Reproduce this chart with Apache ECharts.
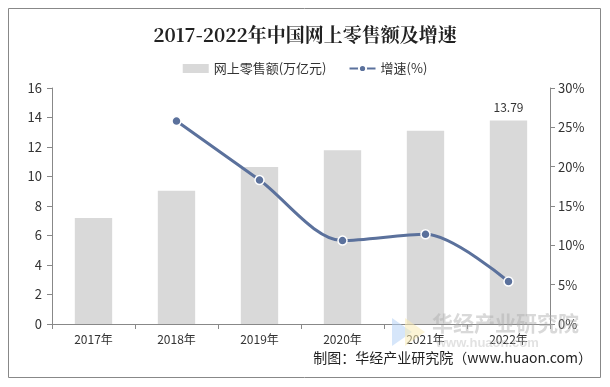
<!DOCTYPE html>
<html><head><meta charset="utf-8">
<script src="https://cdn.jsdelivr.net/npm/echarts@6/dist/echarts.min.js"></script>
<style>html,body{margin:0;padding:0;background:#fff}#c{width:610px;height:387px}</style>
</head><body><div id="c"></div>
<script>
const categories = ['2017年','2018年','2019年','2020年','2021年','2022年'];
const salesValues = [7.18, 9.04, 10.64, 11.78, 13.1, 13.79];
const growthValues = [null, 25.8, 18.3, 10.6, 11.4, 5.4];
const leftTicks = [0,2,4,6,8,10,12,14,16];
const rightTicks = ['0%','5%','10%','15%','20%','25%','30%'];

const chart = echarts.init(document.getElementById('c'));
const font = '"Noto Sans CJK SC", "Liberation Sans", sans-serif';
chart.setOption({
  animation: false,
  backgroundColor: '#fff',
  title: {
    text: '2017-2022年中国网上零售额及增速',
    left: 'center', top: 20,
    textStyle: {fontFamily: '"Noto Serif CJK SC", "Noto Sans CJK SC", serif', fontSize: 19, fontWeight: 'bold', color: '#222'}
  },
  legend: {
    top: 57, left: 'center', itemGap: 22, itemWidth: 26, itemHeight: 9,
    textStyle: {fontFamily: font, fontSize: 13, color: '#333'},
    data: [{name: '网上零售额(万亿元)', icon: 'rect'}, {name: '增速(%)'}]
  },
  grid: {left: 52, right: 60, top: 88, bottom: 63},
  xAxis: {
    type: 'category', data: categories,
    axisLine: {lineStyle: {color: '#888'}},
    axisTick: {show: true, lineStyle: {color: '#888'}},
    axisLabel: {color: '#333', fontSize: 12, fontFamily: font, margin: 9}
  },
  yAxis: [{
    type: 'value', min: 0, max: 16, interval: 2,
    axisLine: {show: true, lineStyle: {color: '#888'}},
    axisTick: {show: true, lineStyle: {color: '#888'}},
    splitLine: {show: false},
    axisLabel: {color: '#333', fontSize: 13, fontFamily: font, margin: 10,
      formatter: v => leftTicks.indexOf(v) >= 0 ? String(v) : ''}
  }, {
    type: 'value', min: 0, max: 30, interval: 5,
    axisLine: {show: true, lineStyle: {color: '#888'}},
    axisTick: {show: true, lineStyle: {color: '#888'}},
    splitLine: {show: false},
    axisLabel: {color: '#333', fontSize: 13, fontFamily: font, margin: 8,
      formatter: v => rightTicks[Math.round(v/5)]}
  }],
  series: [{
    name: '网上零售额(万亿元)', type: 'bar', data: salesValues.map((v,i)=> i===salesValues.length-1 ? {value: v, label: {show: true, position: 'top', color: '#333', fontSize: 12, fontFamily: font, distance: 7}} : v),
    barWidth: '45%', itemStyle: {color: '#d9d9d9'}
  }, {
    name: '增速(%)', type: 'line', yAxisIndex: 1, data: growthValues, smooth: 0.3,
    symbol: 'circle', symbolSize: 9,
    lineStyle: {color: '#5b719c', width: 3},
    itemStyle: {color: '#5b719c', borderColor: '#fff', borderWidth: 1.5}
  }],
  graphic: [
    {type: 'rect', shape: {x: 8.5, y: 8.5, width: 592, height: 369}, style: {fill: 'none', stroke: '#888', lineWidth: 1}, z: 100},
    {type: 'polygon', shape: {points: [[392,318],[392,346],[412,332]]}, style: {fill: 'rgba(180,210,245,0.55)'}, z: 50},
    {type: 'polygon', shape: {points: [[405,318],[405,346],[425,332]]}, style: {fill: 'rgba(250,235,180,0.55)'}, z: 50},
    {type: 'text', left: 432, top: 313, style: {text: '华经产业研究院', fill: 'rgba(170,170,170,0.45)', font: 'bold 21px "Noto Sans CJK SC"'}, z: 50},
    {type: 'text', left: 436, top: 337, style: {text: 'www.huaon.com', fill: 'rgba(190,190,190,0.45)', font: 'bold 13px "Liberation Sans"'}, z: 50},
    {type: 'text', right: 18, top: 351, style: {text: '制图：华经产业研究院（www.huaon.com）', fill: '#222', font: '14px "Noto Sans CJK SC"'}, z: 100}
  ]
});
</script></body></html>
